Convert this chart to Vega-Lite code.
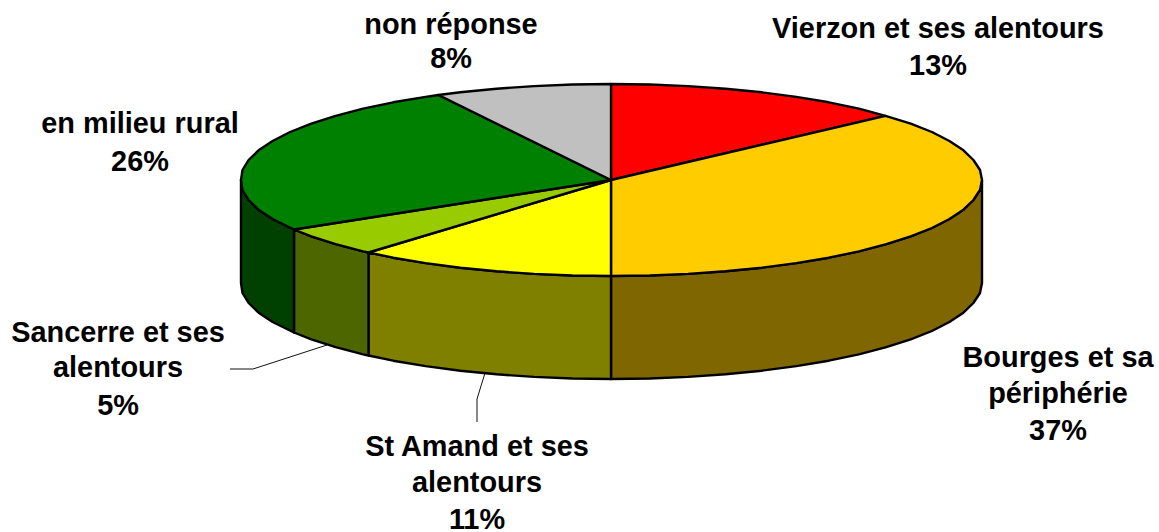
{"$schema":"https://vega.github.io/schema/vega-lite/v6.json","width":1159,"height":532,"padding":0,"autosize":{"type":"none"},"background":"white","view":{"stroke":null},
"datasets":{
"faces":[
{"face":"Bourges et sa périphérie (flanc)","o":1,"x":982,"y":180},{"face":"Bourges et sa périphérie (flanc)","o":2,"x":980,"y":190},{"face":"Bourges et sa périphérie (flanc)","o":3,"x":973.4,"y":200},{"face":"Bourges et sa périphérie (flanc)","o":4,"x":963.4,"y":209.7},{"face":"Bourges et sa périphérie (flanc)","o":5,"x":949.4,"y":219},{"face":"Bourges et sa périphérie (flanc)","o":6,"x":931.9,"y":228},{"face":"Bourges et sa périphérie (flanc)","o":7,"x":910.7,"y":236.4},{"face":"Bourges et sa périphérie (flanc)","o":8,"x":886.3,"y":244.2},{"face":"Bourges et sa périphérie (flanc)","o":9,"x":858.9,"y":251.3},{"face":"Bourges et sa périphérie (flanc)","o":10,"x":828.8,"y":257.7},{"face":"Bourges et sa périphérie (flanc)","o":11,"x":796.3,"y":263.1},{"face":"Bourges et sa périphérie (flanc)","o":12,"x":761.7,"y":267.7},{"face":"Bourges et sa périphérie (flanc)","o":13,"x":725.5,"y":271.3},{"face":"Bourges et sa périphérie (flanc)","o":14,"x":688,"y":273.9},{"face":"Bourges et sa périphérie (flanc)","o":15,"x":649.7,"y":275.5},{"face":"Bourges et sa périphérie (flanc)","o":16,"x":611,"y":276},{"face":"Bourges et sa périphérie (flanc)","o":17,"x":611,"y":379},{"face":"Bourges et sa périphérie (flanc)","o":18,"x":649.7,"y":378.5},{"face":"Bourges et sa périphérie (flanc)","o":19,"x":688,"y":376.9},{"face":"Bourges et sa périphérie (flanc)","o":20,"x":725.5,"y":374.3},{"face":"Bourges et sa périphérie (flanc)","o":21,"x":761.7,"y":370.7},{"face":"Bourges et sa périphérie (flanc)","o":22,"x":796.3,"y":366.1},{"face":"Bourges et sa périphérie (flanc)","o":23,"x":828.8,"y":360.7},{"face":"Bourges et sa périphérie (flanc)","o":24,"x":858.9,"y":354.3},{"face":"Bourges et sa périphérie (flanc)","o":25,"x":886.3,"y":347.2},{"face":"Bourges et sa périphérie (flanc)","o":26,"x":910.7,"y":339.4},{"face":"Bourges et sa périphérie (flanc)","o":27,"x":931.9,"y":331},{"face":"Bourges et sa périphérie (flanc)","o":28,"x":949.4,"y":322},{"face":"Bourges et sa périphérie (flanc)","o":29,"x":963.4,"y":312.7},{"face":"Bourges et sa périphérie (flanc)","o":30,"x":973.4,"y":303},{"face":"Bourges et sa périphérie (flanc)","o":31,"x":980,"y":293},{"face":"Bourges et sa périphérie (flanc)","o":32,"x":982,"y":283},{"face":"Bourges et sa périphérie (flanc)","o":33,"x":982,"y":180},
{"face":"St Amand et ses alentours (flanc)","o":1,"x":611,"y":276},{"face":"St Amand et ses alentours (flanc)","o":2,"x":572.3,"y":275.5},{"face":"St Amand et ses alentours (flanc)","o":3,"x":534,"y":273.9},{"face":"St Amand et ses alentours (flanc)","o":4,"x":496.5,"y":271.3},{"face":"St Amand et ses alentours (flanc)","o":5,"x":460.3,"y":267.7},{"face":"St Amand et ses alentours (flanc)","o":6,"x":425.7,"y":263.1},{"face":"St Amand et ses alentours (flanc)","o":7,"x":393.2,"y":257.7},{"face":"St Amand et ses alentours (flanc)","o":8,"x":368.5,"y":252.5},{"face":"St Amand et ses alentours (flanc)","o":9,"x":368.5,"y":355.5},{"face":"St Amand et ses alentours (flanc)","o":10,"x":393.2,"y":360.7},{"face":"St Amand et ses alentours (flanc)","o":11,"x":425.7,"y":366.1},{"face":"St Amand et ses alentours (flanc)","o":12,"x":460.3,"y":370.7},{"face":"St Amand et ses alentours (flanc)","o":13,"x":496.5,"y":374.3},{"face":"St Amand et ses alentours (flanc)","o":14,"x":534,"y":376.9},{"face":"St Amand et ses alentours (flanc)","o":15,"x":572.3,"y":378.5},{"face":"St Amand et ses alentours (flanc)","o":16,"x":611,"y":379},{"face":"St Amand et ses alentours (flanc)","o":17,"x":611,"y":276},
{"face":"Sancerre et ses alentours (flanc)","o":1,"x":368.5,"y":252.5},{"face":"Sancerre et ses alentours (flanc)","o":2,"x":363.1,"y":251.3},{"face":"Sancerre et ses alentours (flanc)","o":3,"x":335.7,"y":244.2},{"face":"Sancerre et ses alentours (flanc)","o":4,"x":311.3,"y":236.4},{"face":"Sancerre et ses alentours (flanc)","o":5,"x":294,"y":229.5},{"face":"Sancerre et ses alentours (flanc)","o":6,"x":294,"y":332.5},{"face":"Sancerre et ses alentours (flanc)","o":7,"x":311.3,"y":339.4},{"face":"Sancerre et ses alentours (flanc)","o":8,"x":335.7,"y":347.2},{"face":"Sancerre et ses alentours (flanc)","o":9,"x":363.1,"y":354.3},{"face":"Sancerre et ses alentours (flanc)","o":10,"x":368.5,"y":355.5},{"face":"Sancerre et ses alentours (flanc)","o":11,"x":368.5,"y":252.5},
{"face":"en milieu rural (flanc)","o":1,"x":294,"y":229.5},{"face":"en milieu rural (flanc)","o":2,"x":272.6,"y":219},{"face":"en milieu rural (flanc)","o":3,"x":258.6,"y":209.7},{"face":"en milieu rural (flanc)","o":4,"x":248.6,"y":200},{"face":"en milieu rural (flanc)","o":5,"x":242.5,"y":190},{"face":"en milieu rural (flanc)","o":6,"x":241,"y":180},{"face":"en milieu rural (flanc)","o":7,"x":241,"y":283},{"face":"en milieu rural (flanc)","o":8,"x":242.5,"y":293},{"face":"en milieu rural (flanc)","o":9,"x":248.6,"y":303},{"face":"en milieu rural (flanc)","o":10,"x":258.6,"y":312.7},{"face":"en milieu rural (flanc)","o":11,"x":272.6,"y":322},{"face":"en milieu rural (flanc)","o":12,"x":294,"y":332.5},{"face":"en milieu rural (flanc)","o":13,"x":294,"y":229.5},
{"face":"Vierzon et ses alentours","o":1,"x":611,"y":180},{"face":"Vierzon et ses alentours","o":2,"x":611,"y":84},{"face":"Vierzon et ses alentours","o":3,"x":649.7,"y":84.5},{"face":"Vierzon et ses alentours","o":4,"x":688,"y":86.1},{"face":"Vierzon et ses alentours","o":5,"x":725.5,"y":88.7},{"face":"Vierzon et ses alentours","o":6,"x":761.7,"y":92.3},{"face":"Vierzon et ses alentours","o":7,"x":796.3,"y":96.9},{"face":"Vierzon et ses alentours","o":8,"x":828.8,"y":102.3},{"face":"Vierzon et ses alentours","o":9,"x":858.9,"y":108.7},{"face":"Vierzon et ses alentours","o":10,"x":885.5,"y":115.8},{"face":"Vierzon et ses alentours","o":11,"x":611,"y":180},
{"face":"Bourges et sa périphérie","o":1,"x":611,"y":180},{"face":"Bourges et sa périphérie","o":2,"x":885.5,"y":115.8},{"face":"Bourges et sa périphérie","o":3,"x":910.7,"y":123.6},{"face":"Bourges et sa périphérie","o":4,"x":931.9,"y":132},{"face":"Bourges et sa périphérie","o":5,"x":949.4,"y":141},{"face":"Bourges et sa périphérie","o":6,"x":963.4,"y":150.3},{"face":"Bourges et sa périphérie","o":7,"x":973.4,"y":160},{"face":"Bourges et sa périphérie","o":8,"x":980,"y":170},{"face":"Bourges et sa périphérie","o":9,"x":982,"y":180},{"face":"Bourges et sa périphérie","o":10,"x":980,"y":190},{"face":"Bourges et sa périphérie","o":11,"x":973.4,"y":200},{"face":"Bourges et sa périphérie","o":12,"x":963.4,"y":209.7},{"face":"Bourges et sa périphérie","o":13,"x":949.4,"y":219},{"face":"Bourges et sa périphérie","o":14,"x":931.9,"y":228},{"face":"Bourges et sa périphérie","o":15,"x":910.7,"y":236.4},{"face":"Bourges et sa périphérie","o":16,"x":886.3,"y":244.2},{"face":"Bourges et sa périphérie","o":17,"x":858.9,"y":251.3},{"face":"Bourges et sa périphérie","o":18,"x":828.8,"y":257.7},{"face":"Bourges et sa périphérie","o":19,"x":796.3,"y":263.1},{"face":"Bourges et sa périphérie","o":20,"x":761.7,"y":267.7},{"face":"Bourges et sa périphérie","o":21,"x":725.5,"y":271.3},{"face":"Bourges et sa périphérie","o":22,"x":688,"y":273.9},{"face":"Bourges et sa périphérie","o":23,"x":649.7,"y":275.5},{"face":"Bourges et sa périphérie","o":24,"x":611,"y":276},{"face":"Bourges et sa périphérie","o":25,"x":611,"y":180},
{"face":"St Amand et ses alentours","o":1,"x":611,"y":180},{"face":"St Amand et ses alentours","o":2,"x":611,"y":276},{"face":"St Amand et ses alentours","o":3,"x":572.3,"y":275.5},{"face":"St Amand et ses alentours","o":4,"x":534,"y":273.9},{"face":"St Amand et ses alentours","o":5,"x":496.5,"y":271.3},{"face":"St Amand et ses alentours","o":6,"x":460.3,"y":267.7},{"face":"St Amand et ses alentours","o":7,"x":425.7,"y":263.1},{"face":"St Amand et ses alentours","o":8,"x":393.2,"y":257.7},{"face":"St Amand et ses alentours","o":9,"x":368.5,"y":252.5},{"face":"St Amand et ses alentours","o":10,"x":611,"y":180},
{"face":"Sancerre et ses alentours","o":1,"x":611,"y":180},{"face":"Sancerre et ses alentours","o":2,"x":368.5,"y":252.5},{"face":"Sancerre et ses alentours","o":3,"x":363.1,"y":251.3},{"face":"Sancerre et ses alentours","o":4,"x":335.7,"y":244.2},{"face":"Sancerre et ses alentours","o":5,"x":311.3,"y":236.4},{"face":"Sancerre et ses alentours","o":6,"x":294,"y":229.5},{"face":"Sancerre et ses alentours","o":7,"x":611,"y":180},
{"face":"en milieu rural","o":1,"x":611,"y":180},{"face":"en milieu rural","o":2,"x":294,"y":229.5},{"face":"en milieu rural","o":3,"x":272.6,"y":219},{"face":"en milieu rural","o":4,"x":258.6,"y":209.7},{"face":"en milieu rural","o":5,"x":248.6,"y":200},{"face":"en milieu rural","o":6,"x":242.5,"y":190},{"face":"en milieu rural","o":7,"x":241,"y":180},{"face":"en milieu rural","o":8,"x":242.5,"y":170},{"face":"en milieu rural","o":9,"x":248.6,"y":160},{"face":"en milieu rural","o":10,"x":258.6,"y":150.3},{"face":"en milieu rural","o":11,"x":272.6,"y":141},{"face":"en milieu rural","o":12,"x":290.1,"y":132},{"face":"en milieu rural","o":13,"x":311.3,"y":123.6},{"face":"en milieu rural","o":14,"x":335.7,"y":115.8},{"face":"en milieu rural","o":15,"x":363.1,"y":108.7},{"face":"en milieu rural","o":16,"x":393.2,"y":102.3},{"face":"en milieu rural","o":17,"x":425.7,"y":96.9},{"face":"en milieu rural","o":18,"x":438.5,"y":95},{"face":"en milieu rural","o":19,"x":611,"y":180},
{"face":"non réponse","o":1,"x":611,"y":180},{"face":"non réponse","o":2,"x":438.5,"y":95},{"face":"non réponse","o":3,"x":460.3,"y":92.3},{"face":"non réponse","o":4,"x":496.5,"y":88.7},{"face":"non réponse","o":5,"x":534,"y":86.1},{"face":"non réponse","o":6,"x":572.3,"y":84.5},{"face":"non réponse","o":7,"x":611,"y":84},{"face":"non réponse","o":8,"x":611,"y":180}
],
"leaders":[
{"lead":"Sancerre","o":1,"x":230,"y":369},{"lead":"Sancerre","o":2,"x":253,"y":369},{"lead":"Sancerre","o":3,"x":327,"y":345},
{"lead":"St Amand","o":1,"x":477,"y":422},{"lead":"St Amand","o":2,"x":477,"y":399},{"lead":"St Amand","o":3,"x":485,"y":373}
],
"labels":[
{"text":"non réponse","x":451,"y":25},{"text":"8%","x":451,"y":59},
{"text":"Vierzon et ses alentours","x":938,"y":29},{"text":"13%","x":938,"y":66},
{"text":"en milieu rural","x":140,"y":124},{"text":"26%","x":140,"y":162},
{"text":"Sancerre et ses","x":118,"y":333},{"text":"alentours","x":118,"y":368},{"text":"5%","x":118,"y":406},
{"text":"St Amand et ses","x":477,"y":447},{"text":"alentours","x":477,"y":483},{"text":"11%","x":477,"y":520},
{"text":"Bourges et sa","x":1058,"y":358},{"text":"périphérie","x":1058,"y":394},{"text":"37%","x":1058,"y":431}
]},
"layer":[
{"data":{"name":"leaders"},"mark":{"type":"line","stroke":"#111111","strokeWidth":1,"interpolate":"linear"},
"encoding":{"x":{"field":"x","type":"quantitative","axis":null,"scale":{"domain":[0,1159],"nice":false,"zero":false}},"y":{"field":"y","type":"quantitative","axis":null,"scale":{"domain":[0,532],"nice":false,"zero":false,"reverse":true}},"detail":{"field":"lead"},"order":{"field":"o"}}},
{"data":{"name":"faces"},"mark":{"type":"line","filled":true,"stroke":"black","strokeWidth":2.4,"strokeJoin":"round","fillOpacity":1,"interpolate":"linear"},
"encoding":{"x":{"field":"x","type":"quantitative"},"y":{"field":"y","type":"quantitative"},"detail":{"field":"face"},"order":{"field":"o"},
"fill":{"field":"face","type":"nominal","legend":null,"scale":{"domain":["Vierzon et ses alentours","Bourges et sa périphérie","St Amand et ses alentours","Sancerre et ses alentours","en milieu rural","non réponse","Bourges et sa périphérie (flanc)","St Amand et ses alentours (flanc)","Sancerre et ses alentours (flanc)","en milieu rural (flanc)"],"range":["#FF0000","#FFCC00","#FFFF00","#99CC00","#008000","#C0C0C0","#806600","#808000","#4D6600","#004000"]}}}},
{"data":{"name":"labels"},"mark":{"type":"text","font":"Liberation Sans","fontWeight":"bold","fontSize":28.9,"align":"center","baseline":"middle","color":"black"},
"encoding":{"x":{"field":"x","type":"quantitative"},"y":{"field":"y","type":"quantitative"},"text":{"field":"text"}}}
]}
